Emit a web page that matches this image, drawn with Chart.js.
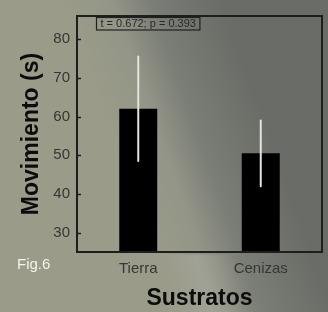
<!DOCTYPE html>
<html>
<head>
<meta charset="utf-8">
<script src="https://cdn.jsdelivr.net/npm/chart.js@4/dist/chart.umd.min.js"></script>
<style>
  html, body { margin: 0; padding: 0; background: #8c8e80; }
  canvas { display: block; }
</style>
</head>
<body>
<canvas id="chart" width="328" height="312"></canvas>
<script>
// data
const categories = ['Tierra', 'Cenizas'];
const means = [62, 50.5];
const errors = [13.5, 8.5];
const yTicks = [30, 40, 50, 60, 70, 80];
const statText = 't = 0.672; p = 0.393';
const figLabel = 'Fig.6';

// background: greyish olive with a darker diagonal region on the right
const backgroundPlugin = {
    id: 'bg',
    beforeDraw(chart) {
        const ctx = chart.ctx;
        const w = chart.width, h = chart.height;
        ctx.save();
        const g = ctx.createLinearGradient(110, 130, 250, 80);
        g.addColorStop(0, '#9a9b88');
        g.addColorStop(0.3, '#939588');
        g.addColorStop(0.55, '#7b7e76');
        g.addColorStop(1, '#6a6d67');
        ctx.fillStyle = g;
        ctx.fillRect(0, 0, w, h);
        // lighter stripe near the bottom
        const g2 = ctx.createLinearGradient(170, 300, 240, 280);
        g2.addColorStop(0, 'rgba(175,175,165,0)');
        g2.addColorStop(0.5, 'rgba(175,175,165,0.45)');
        g2.addColorStop(1, 'rgba(175,175,165,0)');
        ctx.fillStyle = g2;
        ctx.fillRect(150, 255, 110, h - 255);
        ctx.restore();
    }
};

// frame, inner ticks, error bars and texts
const decorPlugin = {
    id: 'decor',
    afterDatasetsDraw(chart) {
        const ctx = chart.ctx;
        const area = chart.chartArea;
        const y = chart.scales.y;
        const meta = chart.getDatasetMeta(0);
        ctx.save();

        // error bars
        ctx.strokeStyle = '#e4e4dc';
        ctx.lineWidth = 2;
        ctx.lineCap = 'round';
        meta.data.forEach((bar, i) => {
            const top = y.getPixelForValue(means[i] + errors[i]);
            const bot = y.getPixelForValue(means[i] - errors[i]);
            ctx.beginPath();
            ctx.moveTo(bar.x, top);
            ctx.lineTo(bar.x, bot);
            ctx.stroke();
        });

        // plot frame
        ctx.strokeStyle = '#1e1f1c';
        ctx.lineWidth = 2;
        ctx.lineCap = 'butt';
        ctx.strokeRect(area.left, area.top, area.right - area.left, area.bottom - area.top);

        // small inner ticks on y axis
        ctx.lineWidth = 1.5;
        yTicks.forEach(v => {
            const py = Math.round(y.getPixelForValue(v)) + 0.5;
            ctx.beginPath();
            ctx.moveTo(area.left, py);
            ctx.lineTo(area.left + 4, py);
            ctx.stroke();
        });

        // stat box
        ctx.font = '11px "Liberation Sans", Arial, sans-serif';
        ctx.textBaseline = 'middle';
        ctx.textAlign = 'left';
        const tw = ctx.measureText(statText).width;
        ctx.lineWidth = 1.2;
        ctx.strokeStyle = '#222';
        ctx.strokeRect(96.5, 17.5, tw + 8, 12.5);
        ctx.fillStyle = '#2a2a28';
        ctx.fillText(statText, 100.5, 24);

        // figure label
        ctx.font = '15px "Liberation Sans", Arial, sans-serif';
        ctx.fillStyle = '#f4f4ee';
        ctx.textBaseline = 'alphabetic';
        ctx.fillText(figLabel, 17, 269);

        ctx.restore();
    }
};

new Chart(document.getElementById('chart'), {
    type: 'bar',
    data: {
        labels: categories,
        datasets: [{
            data: means,
            backgroundColor: '#000000',
            borderWidth: 0,
            barPercentage: 0.31,
            categoryPercentage: 1
        }]
    },
    options: {
        responsive: false,
        devicePixelRatio: 1,
        animation: false,
        layout: { padding: { top: 8, right: 6, left: 0, bottom: 0 } },
        plugins: {
            legend: { display: false },
            tooltip: { enabled: false }
        },
        scales: {
            x: {
                grid: { display: false, drawTicks: false },
                border: { display: false },
                ticks: {
                    color: '#363634',
                    padding: 8,
                    font: { family: '"Liberation Sans", Arial, sans-serif', size: 15 }
                },
                title: {
                    display: true,
                    text: 'Sustratos',
                    color: '#0c0c0c',
                    padding: { top: 0, bottom: 0 },
                    font: { family: '"Liberation Sans", Arial, sans-serif', size: 23, weight: 'bold' }
                },
                afterFit(scale) { scale.height = 60; }
            },
            y: {
                min: 25,
                max: 86,
                grid: { display: false, drawTicks: false },
                border: { display: false },
                afterBuildTicks(scale) {
                    scale.ticks = yTicks.map(v => ({ value: v }));
                },
                ticks: {
                    color: '#363634',
                    padding: 7,
                    font: { family: '"Liberation Sans", Arial, sans-serif', size: 15 }
                },
                title: {
                    display: true,
                    text: 'Movimiento (s)',
                    color: '#0c0c0c',
                    padding: { top: 18, bottom: 0 },
                    font: { family: '"Liberation Sans", Arial, sans-serif', size: 23, weight: 'bold' }
                },
                afterFit(scale) { scale.width = 77; }
            }
        }
    },
    plugins: [backgroundPlugin, decorPlugin]
});
</script>
</body>
</html>
